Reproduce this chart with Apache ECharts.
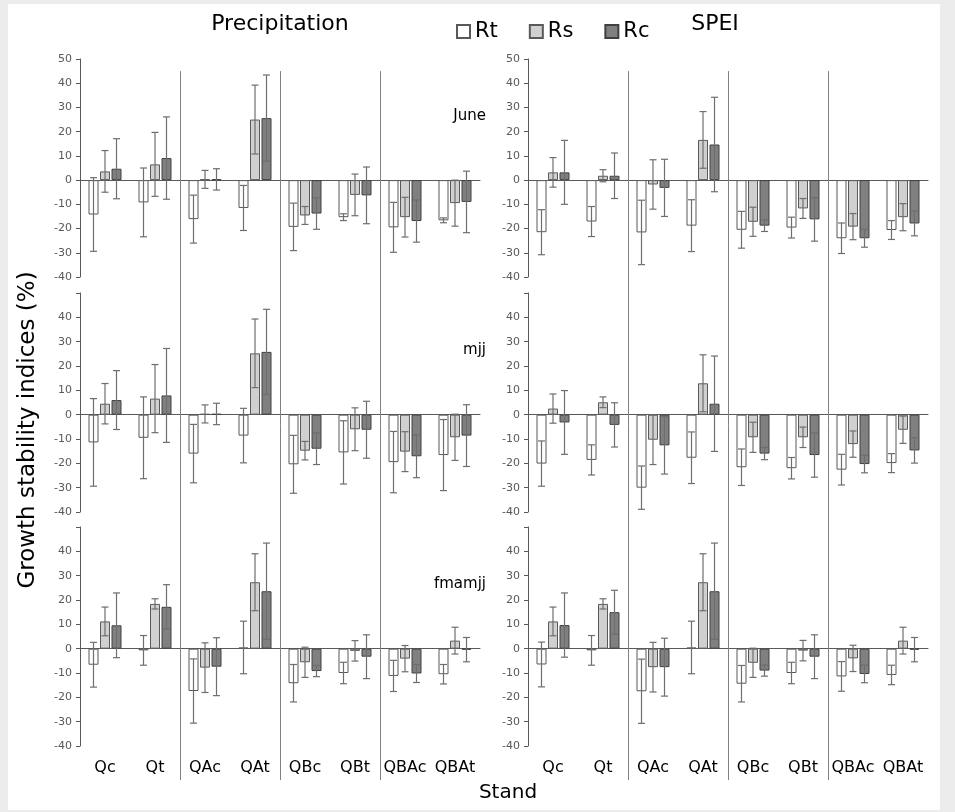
<!DOCTYPE html>
<html>
<head>
<meta charset="utf-8">
<script src="https://cdn.jsdelivr.net/npm/echarts@6/dist/echarts.min.js"></script>
<style>
html,body{margin:0;padding:0;background:#ececec;}
#chart{width:955px;height:812px;}
</style>
</head>
<body>
<div id="chart"></div>
<script>
// ---------- DATA ----------
const categories = ['Qc', 'Qt', 'QAc', 'QAt', 'QBc', 'QBt', 'QBAc', 'QBAt'];
const seriesNames = ['Rt', 'Rs', 'Rc'];
const yTicks = [-40, -30, -20, -10, 0, 10, 20, 30, 40, 50];
const panelLabels = ['June', 'mjj', 'fmamjj'];
const columnTitles = ['Precipitation', 'SPEI'];

// Precipitation - June
const precipJuneRt = [-14.2, -9.2, -16.1, -11.5, -19.3, -15.3, -19.5, -16.6];
const precipJuneRtErr = [15.2, 14.2, 9.9, 9.3, 9.8, 1.4, 10.3, 1.0];
const precipJuneRs = [3.6, 6.5, 0.3, 25.0, -14.6, -6.1, -15.3, -9.5];
const precipJuneRsErr = [8.6, 13.2, 3.7, 14.2, 3.7, 8.6, 8.2, 9.5];
const precipJuneRc = [4.7, 9.1, 0.3, 25.6, -13.8, -6.3, -16.9, -9.0];
const precipJuneRcErr = [12.4, 17.0, 4.4, 17.8, 6.5, 11.7, 8.7, 12.7];

// SPEI - June
const speiJuneRt = [-21.5, -17.1, -21.6, -18.8, -20.5, -19.6, -24.0, -20.6];
const speiJuneRtErr = [9.3, 6.2, 13.3, 10.7, 7.6, 4.3, 6.3, 3.9];
const speiJuneRs = [3.2, 1.8, -1.8, 16.6, -17.2, -11.7, -19.2, -15.3];
const speiJuneRsErr = [6.1, 2.5, 10.2, 11.7, 6.0, 4.1, 5.4, 5.6];
const speiJuneRc = [3.2, 1.8, -3.2, 14.7, -18.8, -16.2, -24.0, -17.9];
const speiJuneRcErr = [13.2, 9.4, 11.8, 19.5, 2.4, 9.0, 3.7, 5.1];

// Precipitation - mjj
const precipMjjRt = [-11.4, -9.5, -16.0, -8.6, -20.4, -15.5, -19.5, -16.6];
const precipMjjRtErr = [18.0, 16.8, 12.0, 11.2, 11.9, 13.0, 12.6, 14.6];
const precipMjjRs = [4.5, 6.6, 0.3, 25.2, -14.8, -6.0, -15.2, -9.3];
const precipMjjRsErr = [8.3, 14.0, 3.7, 14.1, 3.8, 8.8, 8.2, 9.5];
const precipMjjRc = [6.0, 7.9, 0.3, 25.8, -14.0, -6.2, -17.1, -8.6];
const precipMjjRcErr = [12.1, 19.3, 4.4, 17.5, 6.5, 11.7, 8.8, 12.7];

// SPEI - mjj
const speiMjjRt = [-20.1, -18.6, -30.0, -17.7, -21.6, -22.0, -22.6, -19.9];
const speiMjjRtErr = [9.3, 6.2, 8.9, 10.6, 7.5, 4.4, 6.3, 3.9];
const speiMjjRs = [2.5, 5.1, -10.3, 12.9, -9.3, -9.3, -12.1, -6.2];
const speiMjjRsErr = [6.0, 2.2, 10.2, 11.7, 6.2, 4.2, 5.4, 5.6];
const speiMjjRc = [-3.2, -4.2, -12.6, 4.5, -16.0, -16.6, -20.3, -14.7];
const speiMjjRcErr = [13.1, 9.1, 11.8, 19.6, 2.5, 9.1, 3.6, 5.2];

// Precipitation - fmamjj
const precipFmamjjRt = [-6.6, -0.7, -17.4, 0.5, -14.2, -10.0, -11.2, -10.5];
const precipFmamjjRtErr = [9.2, 6.1, 13.2, 10.8, 7.7, 4.4, 6.4, 4.0];
const precipFmamjjRs = [11.2, 18.4, -7.8, 27.3, -5.6, -0.9, -4.1, 3.3];
const precipFmamjjRsErr = [5.9, 2.1, 10.2, 11.7, 6.2, 4.2, 5.4, 5.5];
const precipFmamjjRc = [9.6, 17.2, -7.4, 23.6, -9.2, -3.3, -10.2, -0.4];
const precipFmamjjRcErr = [13.3, 9.1, 11.9, 19.8, 2.3, 9.0, 3.7, 5.0];

// SPEI - fmamjj
const speiFmamjjRt = [-6.5, -0.7, -17.5, 0.5, -14.4, -10.0, -11.4, -10.8];
const speiFmamjjRtErr = [9.2, 6.1, 13.2, 10.8, 7.5, 4.4, 6.1, 4.0];
const speiFmamjjRs = [11.2, 18.4, -7.6, 27.3, -5.8, -0.8, -4.0, 3.3];
const speiFmamjjRsErr = [5.9, 2.1, 10.2, 11.7, 6.0, 4.2, 5.4, 5.5];
const speiFmamjjRc = [9.7, 15.0, -7.6, 23.6, -9.0, -3.3, -10.4, -0.4];
const speiFmamjjRcErr = [13.2, 9.0, 11.9, 19.8, 2.3, 9.0, 3.6, 5.0];

// ---------- BUILD ----------
const FONT = 'DejaVu Sans';
const panels = [
  {vals: [precipJuneRt, precipJuneRs, precipJuneRc], errs: [precipJuneRtErr, precipJuneRsErr, precipJuneRcErr]},
  {vals: [speiJuneRt, speiJuneRs, speiJuneRc], errs: [speiJuneRtErr, speiJuneRsErr, speiJuneRcErr]},
  {vals: [precipMjjRt, precipMjjRs, precipMjjRc], errs: [precipMjjRtErr, precipMjjRsErr, precipMjjRcErr]},
  {vals: [speiMjjRt, speiMjjRs, speiMjjRc], errs: [speiMjjRtErr, speiMjjRsErr, speiMjjRcErr]},
  {vals: [precipFmamjjRt, precipFmamjjRs, precipFmamjjRc], errs: [precipFmamjjRtErr, precipFmamjjRsErr, precipFmamjjRcErr]},
  {vals: [speiFmamjjRt, speiFmamjjRs, speiFmamjjRc], errs: [speiFmamjjRtErr, speiFmamjjRsErr, speiFmamjjRcErr]}
];

const gridLefts = [80, 528];
const gridWidth = 400;
const gridTops = [59, 293, 527];
const gridHeights = [218, 219, 219];

const fills = ['#ffffff', '#d0d0d0', '#808080'];
const borders = ['#595959', '#595959', '#404040'];
const BAR_W = 10, BAR_GAP = 1.5;

const grids = [], xAxes = [], yAxes = [], series = [];
panels.forEach((p, g) => {
  const row = Math.floor(g / 2), col = g % 2;
  grids.push({left: gridLefts[col], top: gridTops[row], width: gridWidth, height: gridHeights[row]});
  xAxes.push({
    gridIndex: g, type: 'category', data: categories,
    axisLine: {onZero: true, lineStyle: {color: '#595959', width: 1}},
    axisTick: {show: false}, axisLabel: {show: false}, splitLine: {show: false}
  });
  yAxes.push({
    gridIndex: g, type: 'value', min: yTicks[0], max: yTicks[yTicks.length - 1], interval: 10,
    axisLine: {show: true, lineStyle: {color: '#595959', width: 1}},
    axisTick: {show: true, length: 4, lineStyle: {color: '#595959'}},
    splitLine: {show: false},
    axisLabel: {
      fontSize: 11, color: '#595959', fontFamily: FONT, margin: 8,
      formatter: (v) => (row > 0 && v === 50) ? '' : String(v)
    }
  });
});
[4, 5].forEach((g) => {
  xAxes.push({
    gridIndex: g, type: 'category', data: categories, position: 'bottom',
    axisLine: {show: false, onZero: false}, axisTick: {show: false}, splitLine: {show: false},
    axisLabel: {show: true, fontSize: 16, color: '#000', fontFamily: FONT, margin: 14, interval: 0}
  });
});

panels.forEach((p, g) => {
  for (let s = 0; s < 3; s++) {
    series.push({
      type: 'bar', name: seriesNames[s], xAxisIndex: g, yAxisIndex: g,
      data: p.vals[s], barWidth: BAR_W, barGap: '15%',
      itemStyle: {color: fills[s], borderColor: borders[s], borderWidth: 1},
      emphasis: {disabled: true}, z: 2
    });
  }
  for (let s = 0; s < 3; s++) {
    const offset = (s - 1) * (BAR_W + BAR_GAP);
    series.push({
      type: 'custom', name: 'err' + seriesNames[s], xAxisIndex: g, yAxisIndex: g,
      data: p.vals[s].map((v, i) => [i, v, p.errs[s][i]]),
      encode: {x: 0, y: 1},
      z: 3, silent: true,
      renderItem: function (params, api) {
        const xi = api.value(0), v = api.value(1), e = api.value(2);
        const hi = api.coord([xi, v + e]);
        const lo = api.coord([xi, v - e]);
        const x = hi[0] + offset;
        const cap = 3.5;
        const st = {stroke: '#6e6e6e', lineWidth: 1.2};
        return {
          type: 'group',
          children: [
            {type: 'line', shape: {x1: x, y1: hi[1], x2: x, y2: lo[1]}, style: st},
            {type: 'line', shape: {x1: x - cap, y1: hi[1], x2: x + cap, y2: hi[1]}, style: st},
            {type: 'line', shape: {x1: x - cap, y1: lo[1], x2: x + cap, y2: lo[1]}, style: st}
          ]
        };
      }
    });
  }
});

const staticGraphics = [
  {id: 'bg', type: 'rect', shape: {x: 8, y: 4, width: 932, height: 806}, style: {fill: '#ffffff'}, z: -10, silent: true},
  {id: 't0', type: 'text', x: 280, y: 24, style: {text: columnTitles[0], font: '22px "DejaVu Sans"', fill: '#000', align: 'center', verticalAlign: 'middle'}},
  {id: 't1', type: 'text', x: 715, y: 24, style: {text: columnTitles[1], font: '22px "DejaVu Sans"', fill: '#000', align: 'center', verticalAlign: 'middle'}},
  {id: 'ytitle', type: 'text', x: 28, y: 430, rotation: Math.PI / 2, style: {text: 'Growth stability indices (%)', font: '23px "DejaVu Sans"', fill: '#000', align: 'center', verticalAlign: 'middle'}},
  {id: 'xtitle', type: 'text', x: 508, y: 793, style: {text: 'Stand', font: '20px "DejaVu Sans"', fill: '#000', align: 'center', verticalAlign: 'middle'}}
];

const option = {
  animation: false,
  backgroundColor: '#ececec',
  textStyle: {fontFamily: FONT},
  legend: {
    data: seriesNames, left: 451, top: 16, icon: 'rect',
    itemWidth: 13, itemHeight: 13, itemGap: 31,
    textStyle: {fontSize: 21, color: '#000', fontFamily: FONT},
    selectedMode: false
  },
  grid: grids, xAxis: xAxes, yAxis: yAxes, series: series,
  graphic: {elements: staticGraphics}
};

const chart = echarts.init(document.getElementById('chart'), null, {renderer: 'canvas'});
chart.setOption(option);

const extra = [];
[0, 1].forEach((col) => {
  const topAx = col, botAx = 4 + col;
  [[1, 2], [3, 4], [5, 6]].forEach(([a, b], k) => {
    const xa = chart.convertToPixel({xAxisIndex: topAx}, a);
    const xb = chart.convertToPixel({xAxisIndex: topAx}, b);
    const x = Math.round((xa + xb) / 2) + 0.5;
    const yTop = chart.convertToPixel({yAxisIndex: topAx}, 45);
    const yBot = chart.convertToPixel({yAxisIndex: botAx}, -40) + 34;
    extra.push({id: 'sep' + col + k, type: 'line', shape: {x1: x, y1: yTop, x2: x, y2: yBot},
      style: {stroke: '#808080', lineWidth: 1}, z: 1, silent: true});
  });
});
[0, 1, 2].forEach((row) => {
  const g = row * 2;
  const y = chart.convertToPixel({yAxisIndex: g}, 26.5);
  const x = chart.convertToPixel({xAxisIndex: g}, 7) + 31;
  extra.push({id: 'pl' + row, type: 'text', x: x, y: y,
    style: {text: panelLabels[row], font: '15px "DejaVu Sans"', fill: '#000', align: 'right', verticalAlign: 'middle'}, z: 5});
});
chart.setOption({graphic: {elements: extra}});
</script>
</body>
</html>
